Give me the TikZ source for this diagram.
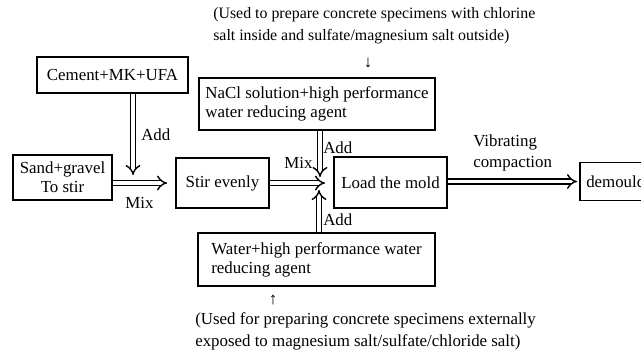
\documentclass[tikz,border=0pt]{standalone}
\usepackage{fontspec}
\setmainfont{Liberation Serif}
\usetikzlibrary{arrows.meta}

\begin{document}
\begin{tikzpicture}[
    step box/.style={
        rectangle,
        draw=black,
        line width=1.3pt,
        inner sep=3pt,
        font=\fontsize{12}{13.5}\selectfont
    },
    note/.style={
        inner sep=0pt,
        align=left,
        font=\fontsize{12}{15.5}\selectfont
    },
    lbl/.style={
        inner sep=0pt,
        font=\fontsize{12}{15}\selectfont
    },
    flow/.style={
        double,
        double distance=2.6pt,
        line width=1pt,
        -{Implies[length=6.5pt, width=10pt]}
    }
]
\useasboundingbox (0,0) rectangle (16.025,-8.85);

% Materials
\node[step box, minimum width=3.775cm, minimum height=0.9cm] (cement) at (2.8125,-1.875) {Cement+MK+UFA};
\node[step box, minimum width=2.475cm, minimum height=1.125cm, align=center] (sand) at (1.5625,-4.4375) {Sand+gravel\\To stir};
\node[step box, minimum width=5.9cm, minimum height=1.3cm, align=left] (nacl) at (7.925,-2.6) {NaCl solution+high performance\\water reducing agent};
\node[step box, minimum width=5.925cm, minimum height=1.325cm, align=left] (water) at (7.9125,-6.4875) {Water+high performance water\\reducing agent};

% Process
\node[step box, minimum width=2.325cm, minimum height=1.25cm] (stir) at (5.5625,-4.575) {Stir evenly};
\node[step box, minimum width=2.825cm, minimum height=1.275cm] (mold) at (9.7625,-4.5625) {Load the mold};
\node[step box, anchor=west, minimum height=0.95cm, inner xsep=4.5pt] (demould) at (14.475,-4.5375) {demould};

% Meeting points
\coordinate (addA) at (3.325,-4.375);
\coordinate (meet) at (8.125,-4.575);
\coordinate (addN) at (8.0,-4.425);
\coordinate (addW) at (7.975,-4.75);

% Notes
\node[note, anchor=west, font=\fontsize{11.3}{15.5}\selectfont] (noteTop) at (5.325,-0.65) {(Used to prepare concrete specimens with chlorine\\salt inside and sulfate/magnesium salt outside)};
\node[lbl] (down) at (9.2,-1.575) {↓};
\node[lbl] (up) at (6.825,-7.5) {↑};
\node[note, anchor=west] (noteBot) at (4.875,-8.275) {(Used for preparing concrete specimens externally\\exposed to magnesium salt/sulfate/chloride salt)};

% Labels
\node[lbl, anchor=west] (addC) at (3.525,-3.375) {Add};
\node[lbl] (mixS) at (3.4875,-5.075) {Mix};
\node[lbl] (mixM) at (7.4625,-4.075) {Mix};
\node[lbl, anchor=west] (addNl) at (8.075,-3.7) {Add};
\node[lbl, anchor=west] (addWl) at (8.075,-5.5) {Add};
\node[note, anchor=west, font=\fontsize{12}{15}\selectfont] (vib) at (11.825,-3.8125) {Vibrating\\compaction};

% Arrows
\draw[flow] (cement.south -| addA) -- (addA);
\draw[flow, shorten >=0.2cm] (sand.east |- stir.west) -- (stir.west);
\draw[flow] (stir.east) -- (meet);
\draw[flow] (nacl.south -| addN) -- (addN);
\draw[flow] (water.north -| addW) -- (addW);
\draw[flow, shorten >=0.05cm] (mold.east |- demould.west) -- (demould.west);

\end{tikzpicture}
\end{document}
